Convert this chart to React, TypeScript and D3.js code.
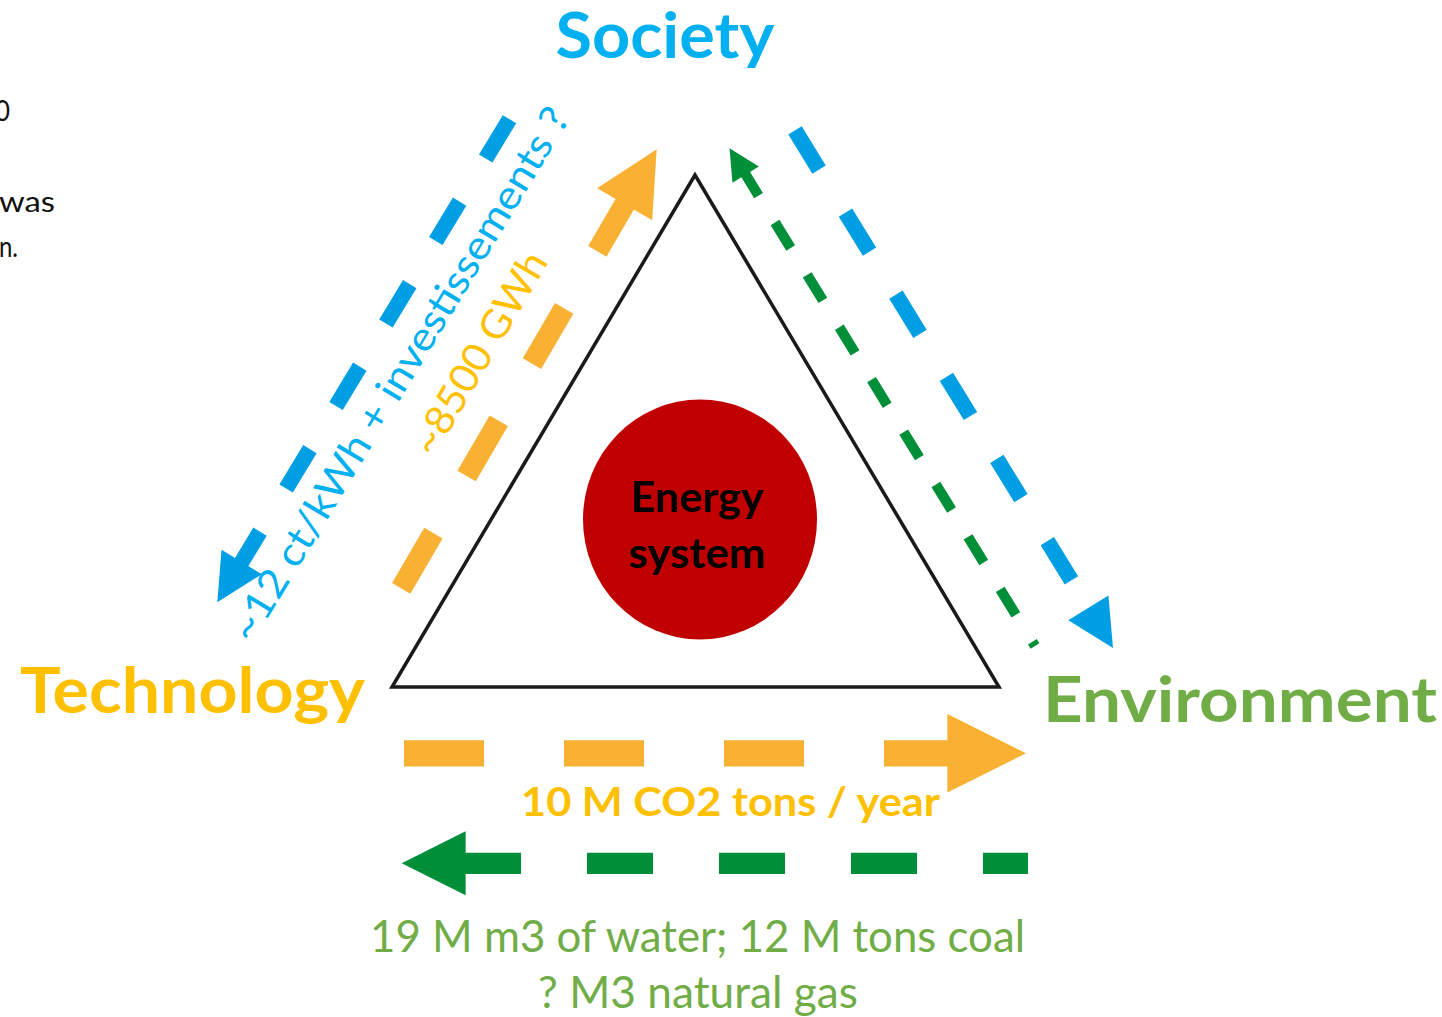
import React from "react";
import * as d3 from "d3";

// ---------- content ----------
const cornerLabels = ["Society", "Technology", "Environment"];
const centerLines = ["Energy", "system"];
const rotatedLabels = ["~12 ct/kWh + investissements ?", "~8500 GWh"];
const emissionLabel = ["10 M CO2 tons / year"];
const resourceLines = ["19 M m3 of water; 12 M tons coal", "? M3 natural gas"];
const marginFragments = ["0", "was", "n."];

// flows: from -> to
const flowFrom = ["Society", "Technology", "Society", "Environment", "Technology", "Environment"];
const flowTo = ["Technology", "Society", "Environment", "Society", "Environment", "Technology"];

// ---------- styles / layout ----------
const W = 1442;
const H = 1017;
const FONT = "Lato, Carlito, Calibri, 'Open Sans', sans-serif";

const C = {
  blueArrow: "#009FE3",
  blueText: "#00B0F0",
  orangeArrow: "#F8B133",
  orangeText: "#FFC000",
  greenArrow: "#008F39",
  greenText: "#70AD47",
  red: "#C00000",
};

type P = [number, number];

// arrow geometry (tail, tip, stroke width, dash, gap, dash offset, colour)
const arrowLayout: { tail: P; tip: P; w: number; dash: number; gap: number; off: number; color: string }[] = [
  { tail: [509.5, 119.2], tip: [217.3, 602.3], w: 15.7, dash: 46, gap: 50.4, off: 0, color: C.blueArrow },
  { tail: [401.2, 588.4], tip: [656.7, 149.3], w: 21.2, dash: 64, gap: 66, off: 0, color: C.orangeArrow },
  { tail: [795, 130.4], tip: [1113, 648], w: 15.7, dash: 46, gap: 50.4, off: 0, color: C.blueArrow },
  { tail: [1035, 646], tip: [729.5, 148.3], w: 10.3, dash: 30, gap: 31.5, off: 25, color: C.greenArrow },
  { tail: [404, 753.3], tip: [1026, 753.3], w: 26.2, dash: 80, gap: 80, off: 0, color: C.orangeArrow },
  { tail: [1028, 863.3], tip: [401.7, 863.3], w: 21.3, dash: 66, gap: 66, off: 21, color: C.greenArrow },
];

function Arrow({ a }: { a: (typeof arrowLayout)[number] }) {
  const [tx, ty] = a.tail;
  const [px, py] = a.tip;
  const len = Math.hypot(px - tx, py - ty);
  const ux = (px - tx) / len;
  const uy = (py - ty) / len;
  const nx = -uy;
  const ny = ux;
  const hl = 3 * a.w;
  const hw = 3 * a.w;
  const bx = px - hl * ux;
  const by = py - hl * uy;
  const head: P[] = [
    [px, py],
    [bx + (nx * hw) / 2, by + (ny * hw) / 2],
    [bx - (nx * hw) / 2, by - (ny * hw) / 2],
  ];
  const ex = px - (hl - 2) * ux;
  const ey = py - (hl - 2) * uy;
  const line = d3.line();
  return (
    <g>
      <line
        x1={tx}
        y1={ty}
        x2={ex}
        y2={ey}
        stroke={a.color}
        strokeWidth={a.w}
        strokeDasharray={`${a.dash} ${a.gap}`}
        strokeDashoffset={a.off}
        strokeLinecap="butt"
      />
      <path d={(line(head) || "") + "Z"} fill={a.color} />
    </g>
  );
}

export default function App() {
  // triangle vertices: Society (top), Technology (left), Environment (right)
  const tri: P[] = [
    [695, 175],
    [392, 687],
    [999, 687],
  ];
  const triPath = (d3.line()(tri) || "") + "Z";

  const cornerStyle = [
    { x: 665, y: 58, size: 64, len: 219, color: C.blueText },
    { x: 192.5, y: 713, size: 64, len: 345, color: C.orangeText },
    { x: 1240, y: 722, size: 63, len: 394, color: C.greenText },
  ];

  const rotStyle = [
    { cx: 401, cy: 375, angle: -58.8, size: 40, len: 616, color: C.blueText },
    { cx: 481, cy: 354, angle: -59.6, size: 40, len: 228, color: C.orangeText },
  ];

  return (
    <svg
      width={W}
      height={H}
      viewBox={`0 0 ${W} ${H}`}
      style={{ position: "absolute", left: 0, top: 0, background: "#fff" }}
      fontFamily={FONT}
    >
      <rect x={0} y={0} width={W} height={H} fill="#fff" />

      {/* cut-off text fragments at the left margin */}
      {marginFragments.map((t, i) => (
        <text
          key={t}
          x={[10, 55, 18][i]}
          y={[121, 212, 257][i]}
          fontSize={29}
          fill="#111"
          textAnchor="end"
          textLength={[15, 56, 19][i]}
          lengthAdjust="spacingAndGlyphs"
        >
          {t}
        </text>
      ))}

      {/* triangle */}
      <path d={triPath} fill="none" stroke="#1a1a1a" strokeWidth={3.5} strokeLinejoin="miter" strokeMiterlimit={10} />

      {/* energy system */}
      <ellipse cx={700} cy={519.5} rx={117} ry={120} fill={C.red} />
      {centerLines.map((t, i) => (
        <text
          key={t}
          x={697}
          y={[511.5, 568][i]}
          fontSize={42}
          fontWeight={700}
          fill="#000"
          textAnchor="middle"
          textLength={[133, 137][i]}
          lengthAdjust="spacingAndGlyphs"
        >
          {t}
        </text>
      ))}

      {/* flows */}
      {flowFrom.map((f, i) => (
        <Arrow key={f + flowTo[i]} a={arrowLayout[i]} />
      ))}

      {/* corner labels */}
      {cornerLabels.map((t, i) => (
        <text
          key={t}
          x={cornerStyle[i].x}
          y={cornerStyle[i].y}
          fontSize={cornerStyle[i].size}
          fontWeight={700}
          fill={cornerStyle[i].color}
          textAnchor="middle"
          textLength={cornerStyle[i].len}
          lengthAdjust="spacingAndGlyphs"
        >
          {t}
        </text>
      ))}

      {/* rotated labels */}
      {rotatedLabels.map((t, i) => (
        <text
          key={t}
          transform={`translate(${rotStyle[i].cx},${rotStyle[i].cy}) rotate(${rotStyle[i].angle})`}
          x={0}
          y={0}
          dy="0.3em"
          fontSize={rotStyle[i].size}
          fill={rotStyle[i].color}
          textAnchor="middle"
          textLength={rotStyle[i].len}
          lengthAdjust="spacingAndGlyphs"
        >
          {t}
        </text>
      ))}

      {/* emissions label */}
      {emissionLabel.map((t) => (
        <text
          key={t}
          x={730.5}
          y={816}
          fontSize={40}
          fontWeight={700}
          fill={C.orangeText}
          textAnchor="middle"
          textLength={419}
          lengthAdjust="spacingAndGlyphs"
        >
          {t}
        </text>
      ))}

      {/* resources label */}
      {resourceLines.map((t, i) => (
        <text
          key={t}
          x={[697.5, 698][i]}
          y={[952, 1008][i]}
          fontSize={44}
          fill={C.greenText}
          textAnchor="middle"
          textLength={[655, 320][i]}
          lengthAdjust="spacingAndGlyphs"
        >
          {t}
        </text>
      ))}
    </svg>
  );
}
